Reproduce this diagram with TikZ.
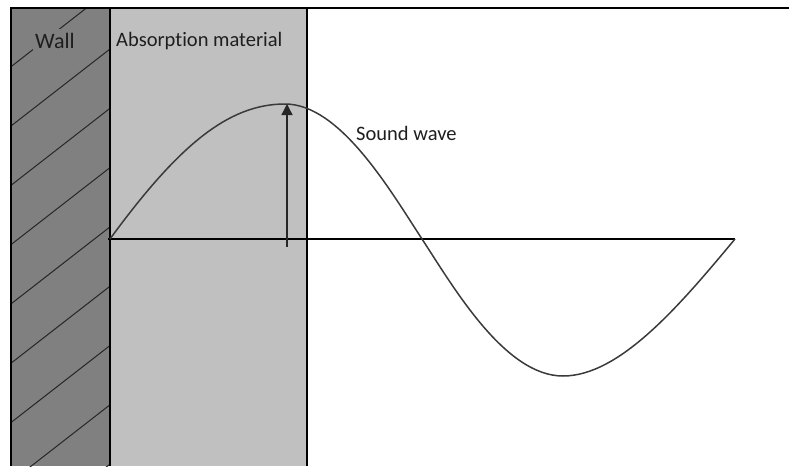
\documentclass[tikz,border=0pt]{standalone}
\usepackage{fontspec}
\setmainfont{Carlito}[Ligatures=NoCommon]
\usetikzlibrary{arrows.meta}
\definecolor{wallgrey}{HTML}{808080}
\definecolor{padgrey}{HTML}{C0C0C0}
\definecolor{waveink}{HTML}{3A3A3A}
\definecolor{textink}{HTML}{1E1E1E}
\tikzset{
  edge/.style={draw=black,line width=1.6pt},
  hatch/.style={draw=black!85,line width=1pt},
  wave/.style={draw=waveink,line width=1.5pt},
  rise/.style={-{Triangle[length=11pt,width=11pt]},draw=black!85,line width=1.3pt},
  caption/.style={inner sep=0pt,text=textink,font=\fontsize{20.5}{24}\selectfont}
}

\begin{document}
\begin{tikzpicture}[x=1pt,y=-1pt]
  \useasboundingbox (0,0) rectangle (791,466);
  \fill[wallgrey] (11,8) rectangle (110,466);
  \fill[padgrey] (110,8) rectangle (307,466);
  \begin{scope}
    \clip (11,8) rectangle (110,466);
    \foreach \k in {-1,...,7}
      \draw[hatch] (11,126+59.3*\k) -- (110,49+59.3*\k);
  \end{scope}
  \node[caption,fill=wallgrey,inner xsep=2pt,inner ysep=4pt,anchor=base west,font=\fontsize{22}{26}\selectfont] (wall) at (33,48) {Wall};
  \node[caption,anchor=base west] (material) at (116,46) {Absorption material};
  \node[caption,anchor=base west] (soundwave) at (356,140) {Sound wave};

  \draw[edge] (11,466) -- (11,8) -- (789,8);
  \draw[edge] (110,8) -- (110,466);
  \draw[edge] (307,8) -- (307,466);

  \coordinate (origin) at (110,239);
  \coordinate (crest) at (285,104);
  \coordinate (node1) at (422,239);
  \coordinate (trough) at (563,376);
  \coordinate (tail) at (735,239);
  \coordinate (foot) at (287,247);
  \coordinate (tip) at (287,104);

  \draw[edge,line width=1.8pt] (108,239) -- (tail);
  \draw[wave] (origin) .. controls (178,146) and (228,104) .. (crest)
    .. controls (340,104) and (390,190) .. (node1)
    .. controls (454,288) and (505,376) .. (trough)
    .. controls (620,376) and (680,305) .. (tail);
  \draw[rise] (foot) -- (tip);
\end{tikzpicture}
\end{document}
